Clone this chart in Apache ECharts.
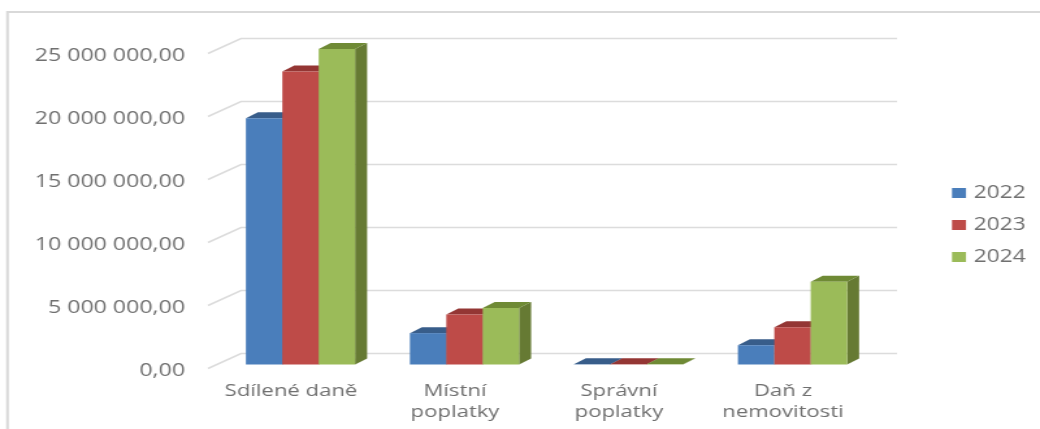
<!DOCTYPE html>
<html><head><meta charset="utf-8">
<style>html,body{margin:0;padding:0;background:#fff;overflow:hidden}#c{width:800px;height:429px;transform:scaleX(1.3);transform-origin:0 0;filter:blur(0.35px)}</style>
<script src="https://cdn.jsdelivr.net/npm/echarts@6/dist/echarts.min.js"></script>
</head><body><div id="c"></div>
<script>
const categories = ['Sdílené daně', 'Místní\npoplatky', 'Správní\npoplatky', 'Daň z\nnemovitosti'];
const years = ['2022', '2023', '2024'];
const values2022 = [19550000, 2490000, 15000, 1530000];
const values2023 = [23250000, 3960000, 15000, 2960000];
const values2024 = [25040000, 4490000, 15000, 6560000];
const tickValues = [0, 5000000, 10000000, 15000000, 20000000, 25000000];
const tickLabels = ['0,00', '5 000 000,00', '10 000 000,00', '15 000 000,00', '20 000 000,00', '25 000 000,00'];

// The reference is stretched horizontally; the chart is drawn 800px wide and widened by CSS.
const SX = 1.3;
const FONT = '"Open Sans"', TXT = '#707070', GRID = '#dcdcdc';
const faces = [
  {front: '#4a7ebb', top: '#385d8a', side: '#385d8a'},
  {front: '#be4b48', top: '#943634', side: '#8c3836'},
  {front: '#9bbb59', top: '#6f8a35', side: '#667a33'}
];
const BAR_W = 36.4 / SX, OFF_X = 9.5 / SX, OFF_Y = -4, DX = 12 / SX, DY = -6;
const WALL_DX = 32 / SX, WALL_DY = -15;

function bar3d(si) {
  const f = faces[si];
  return function (params, api) {
    const p0 = api.coord([api.value(0), 0]);
    const p1 = api.coord([api.value(0), api.value(1)]);
    const xl = p0[0] + OFF_X + (si - 1.5) * BAR_W, xr = xl + BAR_W;
    const yb = p0[1] + OFF_Y, yt = p1[1] + OFF_Y;
    return {type: 'group', silent: true, children: [
      {type: 'polygon', shape: {points: [[xr, yb], [xr + DX, yb + DY], [xr + DX, yt + DY], [xr, yt]]}, style: {fill: f.side}},
      {type: 'polygon', shape: {points: [[xl, yt], [xl + DX, yt + DY], [xr + DX, yt + DY], [xr, yt]]}, style: {fill: f.top}},
      {type: 'rect', shape: {x: xl, y: yt, width: BAR_W, height: yb - yt}, style: {fill: f.front}}
    ]};
  };
}
function wallLine(params, api) {
  const p = api.coord([0, api.value(0)]);
  const cs = params.coordSys;
  const x0 = cs.x - 1 / SX, x1 = cs.x + cs.width + WALL_DX;
  return {type: 'polyline', silent: true, shape: {points: [[x0, p[1]], [cs.x + WALL_DX, p[1] + WALL_DY], [x1, p[1] + WALL_DY]]},
    style: {stroke: GRID, lineWidth: 1.5, fill: null}};
}
const seriesData = [values2022, values2023, values2024];
const chart = echarts.init(document.getElementById('c'), null, {renderer: 'canvas'});
chart.setOption({
  animation: false,
  backgroundColor: '#fff',
  grid: {left: 209 / SX, width: 656 / SX, top: 53.5, height: 315, containLabel: false},
  legend: {
    data: years, orient: 'vertical', left: 952 / SX, top: 181, padding: 0, itemWidth: 14 / SX, itemHeight: 10, itemGap: 8,
    icon: 'rect', textStyle: {fontFamily: FONT, fontSize: 17.5, color: TXT, lineHeight: 24, padding: [0, 0, 0, 1]}
  },
  xAxis: {type: 'category', data: categories, axisLine: {show: false}, axisTick: {show: false}, splitLine: {show: false},
    axisLabel: {fontFamily: FONT, fontSize: 17, color: TXT, lineHeight: 21, margin: 12, interval: 0}},
  yAxis: {type: 'value', min: 0, max: 25000000, interval: 5000000, axisLine: {show: false}, axisTick: {show: false}, splitLine: {show: false},
    axisLabel: {fontFamily: FONT, fontSize: 17.8, color: TXT, margin: 24 / SX, verticalAlign: 'top', lineHeight: 4,
      formatter: v => tickLabels[tickValues.indexOf(v)]}},
  graphic: [
    {type: 'polyline', silent: true, shape: {points: [[7.5 / SX, 429], [7.5 / SX, 12], [800, 12]]}, style: {stroke: '#d9d9d9', lineWidth: 2, fill: null}}
  ],
  series: [
    {type: 'custom', name: 'grid', coordinateSystem: 'cartesian2d', clip: false, z: 1, encode: {y: 0},
     data: tickValues.map(v => [v]), renderItem: wallLine, silent: true},
  ].concat(years.map((y, i) => ({
    type: 'custom', name: y, coordinateSystem: 'cartesian2d', clip: false, z: 2 + i,
    itemStyle: {color: faces[i].front},
    encode: {x: 0, y: 1},
    data: seriesData[i].map((v, k) => [k, v]),
    renderItem: bar3d(i)
  })))
});
</script></body></html>
